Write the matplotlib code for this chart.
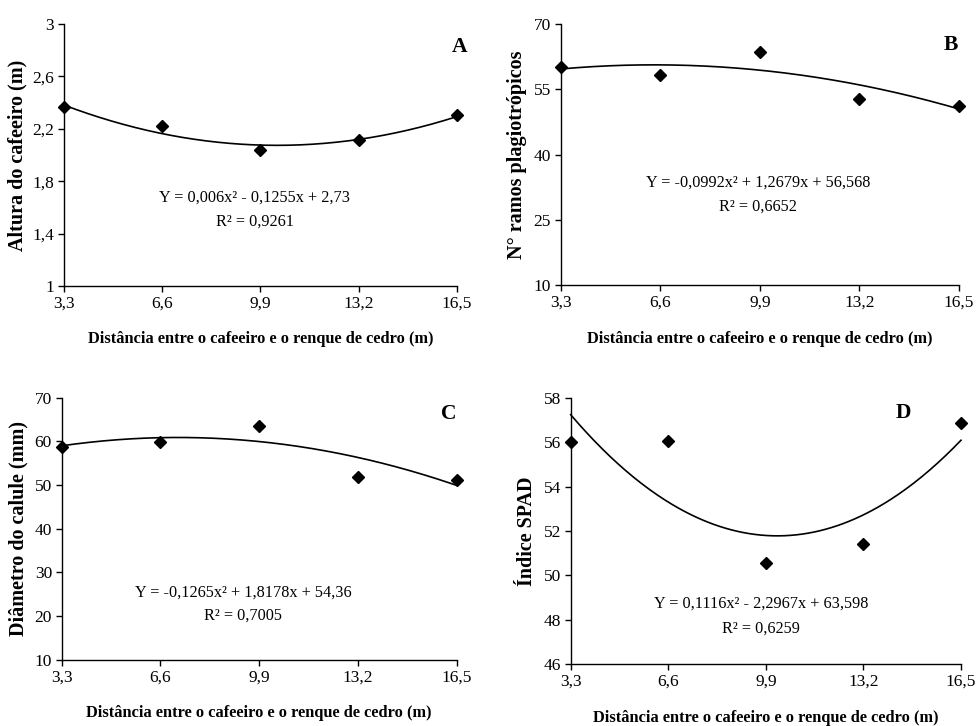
import numpy as np
import matplotlib
matplotlib.use("Agg")
import matplotlib.pyplot as plt

plt.rcParams['font.family'] = ['Liberation Serif', 'DejaVu Serif']

# ---- data ----
distances = [3.3, 6.6, 9.9, 13.2, 16.5]
tick_labels_x = ["3,3", "6,6", "9,9", "13,2", "16,5"]

altura = [2.364, 2.221, 2.038, 2.115, 2.308]
ramos = [60.05, 58.2, 63.57, 52.8, 51.25]
diametro = [58.7, 59.9, 63.6, 51.9, 51.2]
spad = [56.0, 56.06, 50.57, 51.43, 56.85]

coef_A = [0.006, -0.1255, 2.73]
coef_B = [-0.0992, 1.2679, 56.568]
coef_C = [-0.1265, 1.8178, 54.36]
coef_D = [0.1116, -2.2967, 63.598]

yticks_A = [1, 1.4, 1.8, 2.2, 2.6, 3]
yticklabels_A = ["1", "1,4", "1,8", "2,2", "2,6", "3"]
yticks_B = [10, 25, 40, 55, 70]
yticks_C = [10, 20, 30, 40, 50, 60, 70]
yticks_D = [46, 48, 50, 52, 54, 56, 58]

eq_A = "Y = 0,006x² - 0,1255x + 2,73"
r2_A = "R² = 0,9261"
eq_B = "Y = -0,0992x² + 1,2679x + 56,568"
r2_B = "R² = 0,6652"
eq_C = "Y = -0,1265x² + 1,8178x + 54,36"
r2_C = "R² = 0,7005"
eq_D = "Y = 0,1116x² - 2,2967x + 63,598"
r2_D = "R² = 0,6259"

xlabel = "Distância entre o cafeeiro e o renque de cedro (m)"
ylabels = ["Altura do cafeeiro (m)", "N° ramos plagiotrópicos",
           "Diâmetro do calule (mm)", "Índice SPAD"]

W, H = 978, 726
fig = plt.figure(figsize=(W / 100, H / 100), dpi=100)


def px_axes(l, t, r, b):
    return fig.add_axes([l / W, 1 - b / H, (r - l) / W, (b - t) / H])


panels = [
    dict(box=(64, 24, 456.7, 286), y=altura, coef=coef_A, yt=yticks_A, ytl=yticklabels_A,
         ylim=(1, 3), eq=eq_A, r2=r2_A, eqpos=(0.486, 0.336, 0.244), letter="A",
         lpos=(1.008, 0.912), xlab_y=339, ylab_x=17, ylabel=ylabels[0]),
    dict(box=(560.7, 24, 959, 285.3), y=ramos, coef=coef_B, yt=yticks_B, ytl=[str(v) for v in yticks_B],
         ylim=(10, 70), eq=eq_B, r2=r2_B, eqpos=(0.495, 0.393, 0.30), letter="B",
         lpos=(0.98, 0.92), xlab_y=339, ylab_x=517, ylabel=ylabels[1]),
    dict(box=(61.7, 397.7, 456.7, 659.7), y=diametro, coef=coef_C, yt=yticks_C, ytl=[str(v) for v in yticks_C],
         ylim=(10, 70), eq=eq_C, r2=r2_C, eqpos=(0.46, 0.257, 0.17), letter="C",
         lpos=(0.979, 0.939), xlab_y=713, ylab_x=18, ylabel=ylabels[2]),
    dict(box=(570.7, 397.7, 961, 664.3), y=spad, coef=coef_D, yt=yticks_D, ytl=[str(v) for v in yticks_D],
         ylim=(46, 58), eq=eq_D, r2=r2_D, eqpos=(0.487, 0.227, 0.134), letter="D",
         lpos=(0.852, 0.943), xlab_y=718, ylab_x=527, ylabel=ylabels[3]),
]

for p in panels:
    l, t, r, b = p["box"]
    ax = px_axes(l, t, r, b)
    xs = np.linspace(distances[0], distances[-1], 200)
    ax.plot(xs, np.polyval(p["coef"], xs), color="black", lw=1.2, clip_on=False)
    ax.plot(distances, p["y"], linestyle="none", marker="D", color="black",
            markersize=6.5, clip_on=False, zorder=5)
    ax.set_xlim(distances[0], distances[-1])
    ax.set_ylim(*p["ylim"])
    ax.set_xticks(distances)
    ax.set_xticklabels(tick_labels_x)
    ax.set_yticks(p["yt"])
    ax.set_yticklabels(p["ytl"])
    for s in ("top", "right"):
        ax.spines[s].set_visible(False)
    for s in ("left", "bottom"):
        ax.spines[s].set_linewidth(1.0)
    ax.tick_params(direction="out", length=4, width=1, labelsize=12.5, pad=3, colors="black")
    ax.patch.set_alpha(0)
    ex, ey1, ey2 = p["eqpos"]
    ax.text(ex, ey1, p["eq"], transform=ax.transAxes, ha="center", va="center", fontsize=11.7)
    ax.text(ex, ey2, p["r2"], transform=ax.transAxes, ha="center", va="center", fontsize=11.7)
    ax.text(p["lpos"][0], p["lpos"][1], p["letter"], transform=ax.transAxes, ha="center",
            va="center", fontsize=15.5, fontweight="bold")
    fig.text(((l + r) / 2) / W, 1 - p["xlab_y"] / H, xlabel, ha="center", va="center",
             fontsize=11.8, fontweight="bold")
    fig.text(p["ylab_x"] / W, 1 - ((t + b) / 2) / H, p["ylabel"], ha="center", va="center",
             rotation=90, fontsize=14.5, fontweight="bold")

fig.savefig("out.png", dpi=100, facecolor="white")
